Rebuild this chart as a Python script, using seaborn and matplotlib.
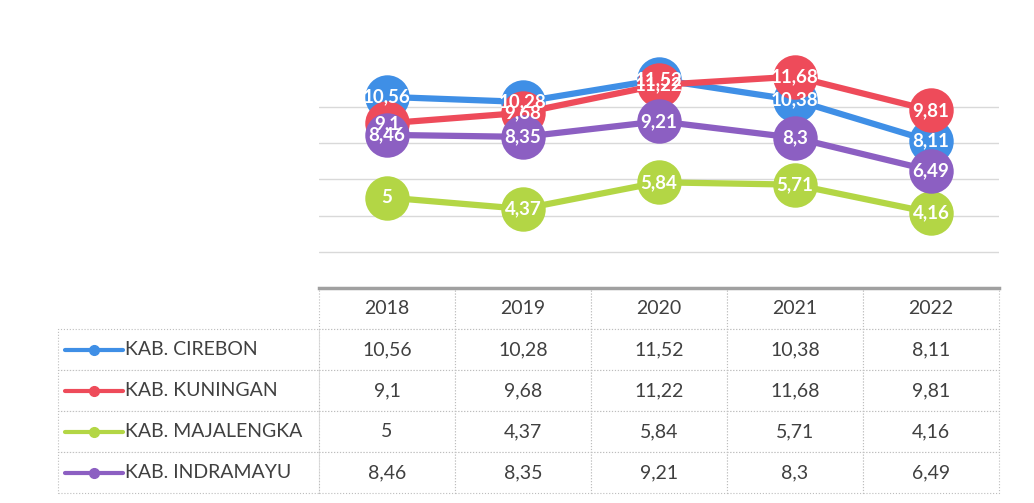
import pandas as pd
import seaborn as sns
import matplotlib.pyplot as plt

tahun = ["2018", "2019", "2020", "2021", "2022"]
wilayah = ["KAB. CIREBON", "KAB. KUNINGAN", "KAB. MAJALENGKA", "KAB. INDRAMAYU"]
cirebon = [10.56, 10.28, 11.52, 10.38, 8.11]
kuningan = [9.1, 9.68, 11.22, 11.68, 9.81]
majalengka = [5, 4.37, 5.84, 5.71, 4.16]
indramayu = [8.46, 8.35, 9.21, 8.3, 6.49]
warna = ["#3f8fe6", "#ee4b5a", "#b3d645", "#8c5fc2"]

series = [cirebon, kuningan, majalengka, indramayu]
df = pd.DataFrame({
    "tahun": tahun * len(wilayah),
    "wilayah": [w for w in wilayah for _ in tahun],
    "nilai": [v for s in series for v in s],
})


def fmt(v):
    return f"{v:g}".replace(".", ",")


sns.set_style("white")
plt.rcParams["font.family"] = ["Lato", "DejaVu Sans"]

fig = plt.figure(figsize=(10.34, 5.03), dpi=100)
ax = fig.add_axes([319 / 1034, 1 - 288 / 503, 680 / 1034, 253.4 / 503])

sns.lineplot(data=df, x="tahun", y="nilai", hue="wilayah", hue_order=wilayah,
             palette=dict(zip(wilayah, warna)), marker="o", markersize=32,
             markeredgewidth=0, linewidth=4.5, legend=False, sort=False, ax=ax)

# labels inside the markers
for s in series:
    for i, v in enumerate(s):
        ax.text(i, v, fmt(v), ha="center", va="center", color="white",
                fontsize=13.5, fontweight="bold", zorder=10)

ax.set_xlim(-0.5, len(tahun) - 0.5)
ax.set_ylim(0, 14)
ax.set_yticks([2, 4, 6, 8, 10])
ax.yaxis.grid(True, color="#d9d9d9", lw=1)
ax.set_axisbelow(True)
ax.set_xticks([])
ax.set_yticklabels([])
ax.tick_params(left=False, bottom=False)
ax.set_xlabel("")
ax.set_ylabel("")
for sp in ["top", "left", "right"]:
    ax.spines[sp].set_visible(False)
ax.spines["bottom"].set_color("#a0a0a0")
ax.spines["bottom"].set_linewidth(2.5)
ax.spines["bottom"].set_zorder(20)

# data table under the chart
cells = [[""] + tahun]
for w, s in zip(wilayah, series):
    cells.append([w] + [fmt(v) for v in s])

x0 = -(319 - 58) / 680
tbl_h = (493 - 288) / 253.4
tbl = ax.table(cellText=cells, cellLoc="center",
               colWidths=[-x0] + [1 / len(tahun)] * len(tahun),
               bbox=[x0, -tbl_h, 1 - x0, tbl_h])
tbl.auto_set_font_size(False)
tbl.set_fontsize(14)
for (r, c), cell in tbl.get_celld().items():
    cell.set_edgecolor("#bdbdbd")
    cell.set_linewidth(0.8)
    cell.set_linestyle(":")
    cell.get_text().set_color("#404040")
    if c == 0:
        cell.get_text().set_ha("left")
        cell.PAD = 67 / 262
    if r == 0 and c == 0:
        cell.visible_edges = ""

# legend keys in the label column
row_h = tbl_h / len(cells)
for k, col in enumerate(warna):
    yk = -(k + 1.5) * row_h
    ax.plot([(65 - 319) / 680, (123 - 319) / 680], [yk, yk], color=col, lw=3,
            transform=ax.transAxes, clip_on=False, solid_capstyle="round")
    ax.plot([(94 - 319) / 680], [yk], marker="o", color=col, markersize=7,
            transform=ax.transAxes, clip_on=False)

fig.savefig("out.png", dpi=100, facecolor="white")
